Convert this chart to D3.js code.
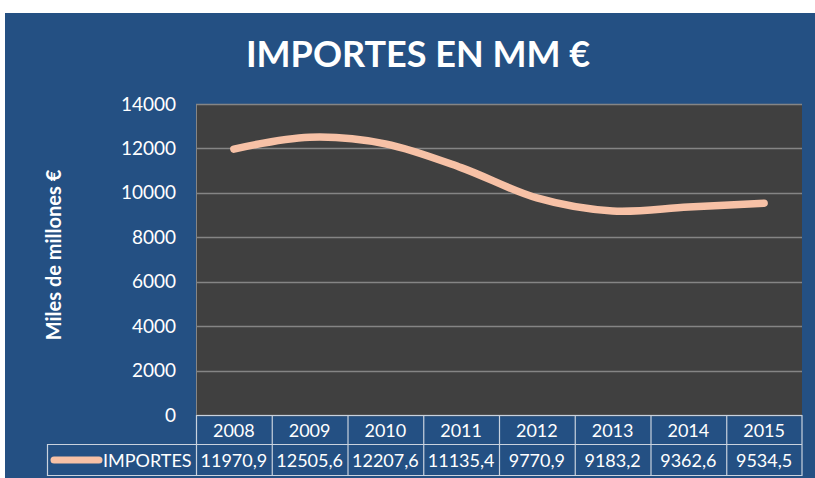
<!DOCTYPE html>
<html>
<head>
<meta charset="utf-8">
<script src="https://cdn.jsdelivr.net/npm/d3@7"></script>
<style>
  body { margin: 0; background: #fff; }
  svg { display: block; }
</style>
</head>
<body>
<div class="canvas"></div>
<script>
const years = ["2008", "2009", "2010", "2011", "2012", "2013", "2014", "2015"];
const importes = [11970.9, 12505.6, 12207.6, 11135.4, 9770.9, 9183.2, 9362.6, 9534.5];
const tableLabels = ["11970,9", "12505,6", "12207,6", "11135,4", "9770,9", "9183,2", "9362,6", "9534,5"];
const yTicks = [0, 2000, 4000, 6000, 8000, 10000, 12000, 14000];

const width = 815, height = 478;
const blue = "#245083";
const peach = "#f7c1a6";
const font = "Lato, 'Open Sans', sans-serif";

const svg = d3.select(".canvas")
    .append("svg")
    .attr("width", width)
    .attr("height", height);

// background panel
svg.append("rect")
    .attr("x", 5).attr("y", 13)
    .attr("width", 810).attr("height", 465)
    .attr("fill", blue);

svg.append("text")
    .attr("x", 418).attr("y", 67)
    .attr("text-anchor", "middle")
    .attr("fill", "#fff")
    .attr("font-family", font)
    .attr("font-weight", "bold")
    .attr("font-size", 36)
    .text("IMPORTES EN MM €");

const plot = { left: 196, top: 104, right: 802, bottom: 415 };

const x = d3.scaleBand()
    .domain(years)
    .range([plot.left, plot.right]);

const y = d3.scaleLinear()
    .domain([0, 14000])
    .range([plot.bottom, plot.top]);

svg.append("rect")
    .attr("x", plot.left).attr("y", plot.top)
    .attr("width", plot.right - plot.left)
    .attr("height", plot.bottom - plot.top)
    .attr("fill", "#404040");

// gridlines
svg.append("g")
    .selectAll("line")
    .data(yTicks)
    .join("line")
    .attr("x1", plot.left).attr("x2", plot.right)
    .attr("y1", d => Math.round(y(d)) + 0.5)
    .attr("y2", d => Math.round(y(d)) + 0.5)
    .attr("stroke", "#858585")
    .attr("stroke-width", 1.3);

svg.append("line")
    .attr("x1", plot.left + 0.5).attr("x2", plot.left + 0.5)
    .attr("y1", plot.top).attr("y2", plot.bottom)
    .attr("stroke", "#858585");

// y axis
const yAxis = d3.axisLeft(y)
    .tickValues(yTicks)
    .tickFormat(d3.format("d"))
    .tickSize(0)
    .tickPadding(20);
const yAxisGroup = svg.append("g")
    .attr("transform", `translate(${plot.left}, 0)`)
    .call(yAxis);
yAxisGroup.select(".domain").remove();
yAxisGroup.selectAll("text")
    .attr("fill", "#fff")
    .attr("font-family", font)
    .attr("font-size", 19);

svg.append("text")
    .attr("transform", "translate(61, 255) rotate(-90)")
    .attr("text-anchor", "middle")
    .attr("fill", "#fff")
    .attr("font-family", font)
    .attr("font-weight", "bold")
    .attr("font-size", 20)
    .text("Miles de millones €");

// line
const line = d3.line()
    .x((d, i) => x(years[i]) + x.bandwidth() / 2)
    .y(d => y(d))
    .curve(d3.curveCardinal.tension(0));

svg.append("path")
    .datum(importes)
    .attr("d", line)
    .attr("fill", "none")
    .attr("stroke", peach)
    .attr("stroke-width", 7.5)
    .attr("stroke-linecap", "round")
    .attr("stroke-linejoin", "round");

// data table
const tableLeft = 47, row1 = plot.bottom, row2 = 444, row3 = 476;
const border = "#c9d2de";
const table = svg.append("g");

table.selectAll("line.v")
    .data(years)
    .join("line")
    .attr("class", "v")
    .attr("x1", d => x(d) + 0.5).attr("x2", d => x(d) + 0.5)
    .attr("y1", row1).attr("y2", row3)
    .attr("stroke", border).attr("stroke-width", 1.2);

table.append("line")
    .attr("x1", plot.right).attr("x2", plot.right)
    .attr("y1", row1).attr("y2", row3)
    .attr("stroke", border).attr("stroke-width", 1.2);
table.append("line")
    .attr("x1", tableLeft + 0.5).attr("x2", tableLeft + 0.5)
    .attr("y1", row2).attr("y2", row3)
    .attr("stroke", border).attr("stroke-width", 1.2);
table.append("line")
    .attr("x1", plot.left).attr("x2", plot.right)
    .attr("y1", row1 + 0.5).attr("y2", row1 + 0.5)
    .attr("stroke", border).attr("stroke-width", 1.2);
table.append("line")
    .attr("x1", tableLeft).attr("x2", plot.right)
    .attr("y1", row2 + 0.5).attr("y2", row2 + 0.5)
    .attr("stroke", border).attr("stroke-width", 1.2);
table.append("line")
    .attr("x1", tableLeft).attr("x2", plot.right)
    .attr("y1", row3 - 0.5).attr("y2", row3 - 0.5)
    .attr("stroke", border).attr("stroke-width", 1.2);

table.selectAll("text.year")
    .data(years)
    .join("text")
    .attr("class", "year")
    .attr("x", d => x(d) + x.bandwidth() / 2)
    .attr("y", (row1 + row2) / 2 + 7)
    .attr("text-anchor", "middle")
    .attr("fill", "#fff")
    .attr("font-family", font)
    .attr("font-size", 18)
    .text(d => d);

table.selectAll("text.val")
    .data(tableLabels)
    .join("text")
    .attr("class", "val")
    .attr("x", (d, i) => x(years[i]) + x.bandwidth() / 2)
    .attr("y", (row2 + row3) / 2 + 7)
    .attr("text-anchor", "middle")
    .attr("fill", "#fff")
    .attr("font-family", font)
    .attr("font-size", 18)
    .text(d => d);

table.append("line")
    .attr("x1", 54).attr("x2", 99)
    .attr("y1", 460).attr("y2", 460)
    .attr("stroke", peach)
    .attr("stroke-width", 7)
    .attr("stroke-linecap", "round");

table.append("text")
    .attr("x", 103).attr("y", 467)
    .attr("fill", "#fff")
    .attr("font-family", font)
    .attr("font-size", 18)
    .text("IMPORTES");
</script>
</body>
</html>
